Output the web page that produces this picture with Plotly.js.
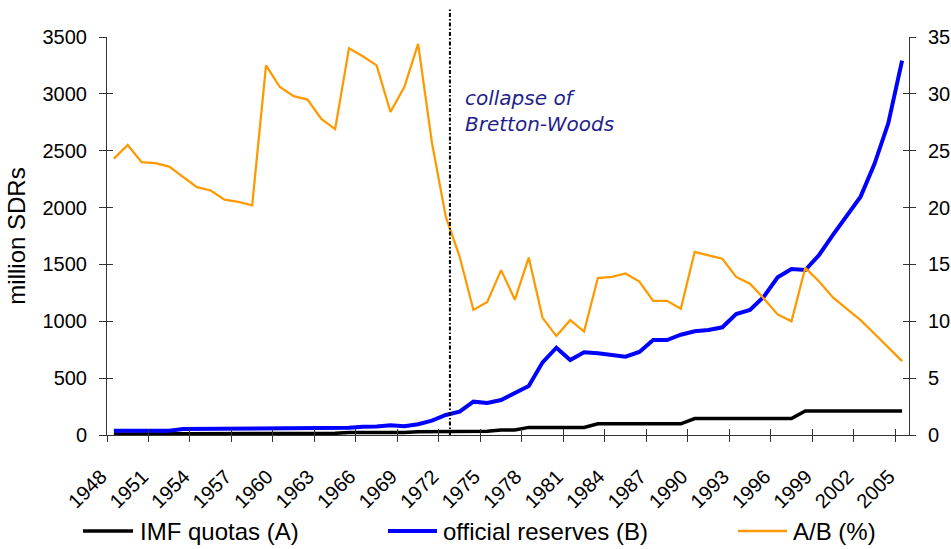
<!DOCTYPE html>
<html><head><meta charset="utf-8">
<script src="https://cdn.plot.ly/plotly-3.0.1.min.js"></script>
<style>html,body{margin:0;padding:0;background:#fff}</style>
</head><body><div id="chart" style="width:951px;height:549px"></div>
<script>
const years = [1948,1949,1950,1951,1952,1953,1954,1955,1956,1957,1958,1959,1960,1961,1962,1963,1964,1965,1966,1967,1968,1969,1970,1971,1972,1973,1974,1975,1976,1977,1978,1979,1980,1981,1982,1983,1984,1985,1986,1987,1988,1989,1990,1991,1992,1993,1994,1995,1996,1997,1998,1999,2000,2001,2002,2003,2004,2005];
const imfQuotas = [9,9,9,9,9,9,9,9,9,9,9,15,15,15,15,15,15,21,21,21,21,21,29,29,29,32,32,32,44,44,67,67,67,67,67,98,98,98,98,98,98,98,145,145,145,145,145,145,145,145,212,212,212,212,212,212,212,212];
const officialReserves = [38,38,38,38,38,52,53,53,53,53,53,55,62,63,63,63,63,64,72,74,85,78,95,126,176,205,293,281,308,372,431,639,768,660,727,718,706,689,730,835,835,882,912,923,947,1064,1099,1216,1387,1460,1451,1583,1759,1926,2096,2383,2741,3292];
const ratioAB = [24.3,25.5,24.0,23.9,23.6,22.7,21.8,21.5,20.7,20.5,20.2,32.5,30.6,29.8,29.5,27.8,26.9,34.0,33.3,32.5,28.4,30.6,34.4,25.7,19.2,15.7,11.0,11.7,14.5,11.9,15.6,10.3,8.7,10.1,9.1,13.8,13.9,14.2,13.5,11.8,11.8,11.1,16.1,15.8,15.5,13.9,13.3,12.0,10.6,10.0,14.7,13.5,12.1,11.1,10.1,8.9,7.7,6.5];
const xTickLabels = ["1948","1951","1954","1957","1960","1963","1966","1969","1972","1975","1978","1981","1984","1987","1990","1993","1996","1999","2002","2005"];
const leftTicks = [0,500,1000,1500,2000,2500,3000,3500];
const rightTicks = [0,5,10,15,20,25,30,35];
const seriesNames = ["IMF quotas (A)","official reserves (B)","A/B (%)"];
const seriesColors = ["#000000","#0000ff","#ff9900"];
const yTitle = "million SDRs";
const collapseYear = 1972.3;
const collapseText = "collapse of<br>Bretton-Woods";

const W = 951, H = 549;
const M = {l:107, r:42, t:37, b:114};
const pw = W - M.l - M.r, ph = H - M.t - M.b;
const xRange = [years[0]-0.5, years[years.length-1]+0.5];
const px = v => (v - M.l)/pw;
const py = v => (H - M.b - v)/ph;
const tickPos = xTickLabels.map(l => Number(l) - 0.5);
const FONT = "Liberation Sans, Arial, sans-serif";
const AX = "#333333";

const traces = [
  {x: years, y: imfQuotas, name: seriesNames[0], type:'scatter', mode:'lines', line:{color:seriesColors[0], width:3.5}, xaxis:'x', yaxis:'y', showlegend:false},
  {x: years, y: officialReserves, name: seriesNames[1], type:'scatter', mode:'lines', line:{color:seriesColors[1], width:4}, xaxis:'x', yaxis:'y', showlegend:false},
  {x: years, y: ratioAB, name: seriesNames[2], type:'scatter', mode:'lines', line:{color:seriesColors[2], width:2.25}, xaxis:'x', yaxis:'y2', showlegend:false},
  {x:[null], y:[null], xaxis:'x2', yaxis:'y', showlegend:false, hoverinfo:'skip', mode:'lines'},
  {x:[null], y:[null], xaxis:'x', yaxis:'y3', showlegend:false, hoverinfo:'skip', mode:'lines'},
  {x:[null], y:[null], xaxis:'x', yaxis:'y4', showlegend:false, hoverinfo:'skip', mode:'lines'}
];

const baseAxis = {showgrid:false, zeroline:false, automargin:false, fixedrange:true};

const legendSamples = [[83,133],[388,437],[738,787]];
const legendTextX = [138,441,791];
const legendY = 531;

const shapes = [
  {type:'line', xref:'paper', yref:'paper', x0:(collapseYear-xRange[0])/(xRange[1]-xRange[0]), x1:(collapseYear-xRange[0])/(xRange[1]-xRange[0]), y0:0, y1:py(8), line:{color:'#000', width:2, dash:'4px,2px,1.5px,2px'}}
];
const widths = [3.5,4,2.5];
legendSamples.forEach((s,i)=>{
  shapes.push({type:'line', xref:'paper', yref:'paper', x0:px(s[0]), x1:px(s[1]), y0:py(legendY), y1:py(legendY), line:{color:seriesColors[i], width:widths[i]}});
});

const annotations = [
  {xref:'paper', yref:'paper', x:px(463), y:py(84), xanchor:'left', yanchor:'top', showarrow:false, align:'left',
   text:'<i>'+collapseText+'</i>', font:{family:'DejaVu Sans, Verdana, sans-serif', size:20, color:'#1f1f8c'}}
];
seriesNames.forEach((n,i)=>{
  annotations.push({xref:'paper', yref:'paper', x:px(legendTextX[i]), y:py(legendY), xanchor:'left', yanchor:'middle', showarrow:false, text:n, font:{family:FONT, size:24, color:'#000'}});
});

const layout = {
  width:W, height:H, margin:M, paper_bgcolor:'#fff', plot_bgcolor:'#fff', showlegend:false,
  font:{family:FONT, size:20, color:'#000'},
  xaxis: Object.assign({}, baseAxis, {type:'linear', range:xRange, tickmode:'array', tickvals:tickPos, ticktext:xTickLabels,
    ticks:'outside', ticklen:6, tickwidth:1, tickcolor:AX, showline:true, linecolor:AX, linewidth:1,
    tickangle:-45, tickfont:{family:FONT, size:20, color:'#000'}, ticklabelstandoff:15, ticklabelshift:-6}),
  xaxis2: Object.assign({}, baseAxis, {overlaying:'x', anchor:'y', type:'linear', range:xRange, tickmode:'array', tickvals:tickPos,
    ticks:'inside', ticklen:6, tickwidth:1, tickcolor:AX, showticklabels:false, showline:false}),
  yaxis: Object.assign({}, baseAxis, {range:[0,3500], tickmode:'array', tickvals:leftTicks, ticks:'outside', ticklen:7, tickwidth:1, tickcolor:AX,
    showline:true, linecolor:AX, linewidth:1, tickfont:{family:FONT, size:20, color:'#000'}, ticklabelstandoff:8,
    title:{text:yTitle, font:{family:FONT, size:24, color:'#000'}, standoff:10}}),
  yaxis2: Object.assign({}, baseAxis, {overlaying:'y', side:'right', anchor:'x', range:[0,35], tickmode:'array', tickvals:rightTicks,
    ticks:'outside', ticklen:6, tickwidth:1, tickcolor:AX, showline:true, linecolor:AX, linewidth:1,
    tickfont:{family:FONT, size:20, color:'#000'}, ticklabelstandoff:8}),
  yaxis3: Object.assign({}, baseAxis, {overlaying:'y', side:'left', anchor:'x', range:[0,3500], tickmode:'array', tickvals:leftTicks,
    ticks:'inside', ticklen:6, tickwidth:1, tickcolor:AX, showticklabels:false, showline:false}),
  yaxis4: Object.assign({}, baseAxis, {overlaying:'y', side:'right', anchor:'x', range:[0,35], tickmode:'array', tickvals:rightTicks,
    ticks:'inside', ticklen:6, tickwidth:1, tickcolor:AX, showticklabels:false, showline:false}),
  shapes: shapes,
  annotations: annotations
};
Plotly.newPlot('chart', traces, layout, {staticPlot:true, displayModeBar:false});
</script>
</body></html>
